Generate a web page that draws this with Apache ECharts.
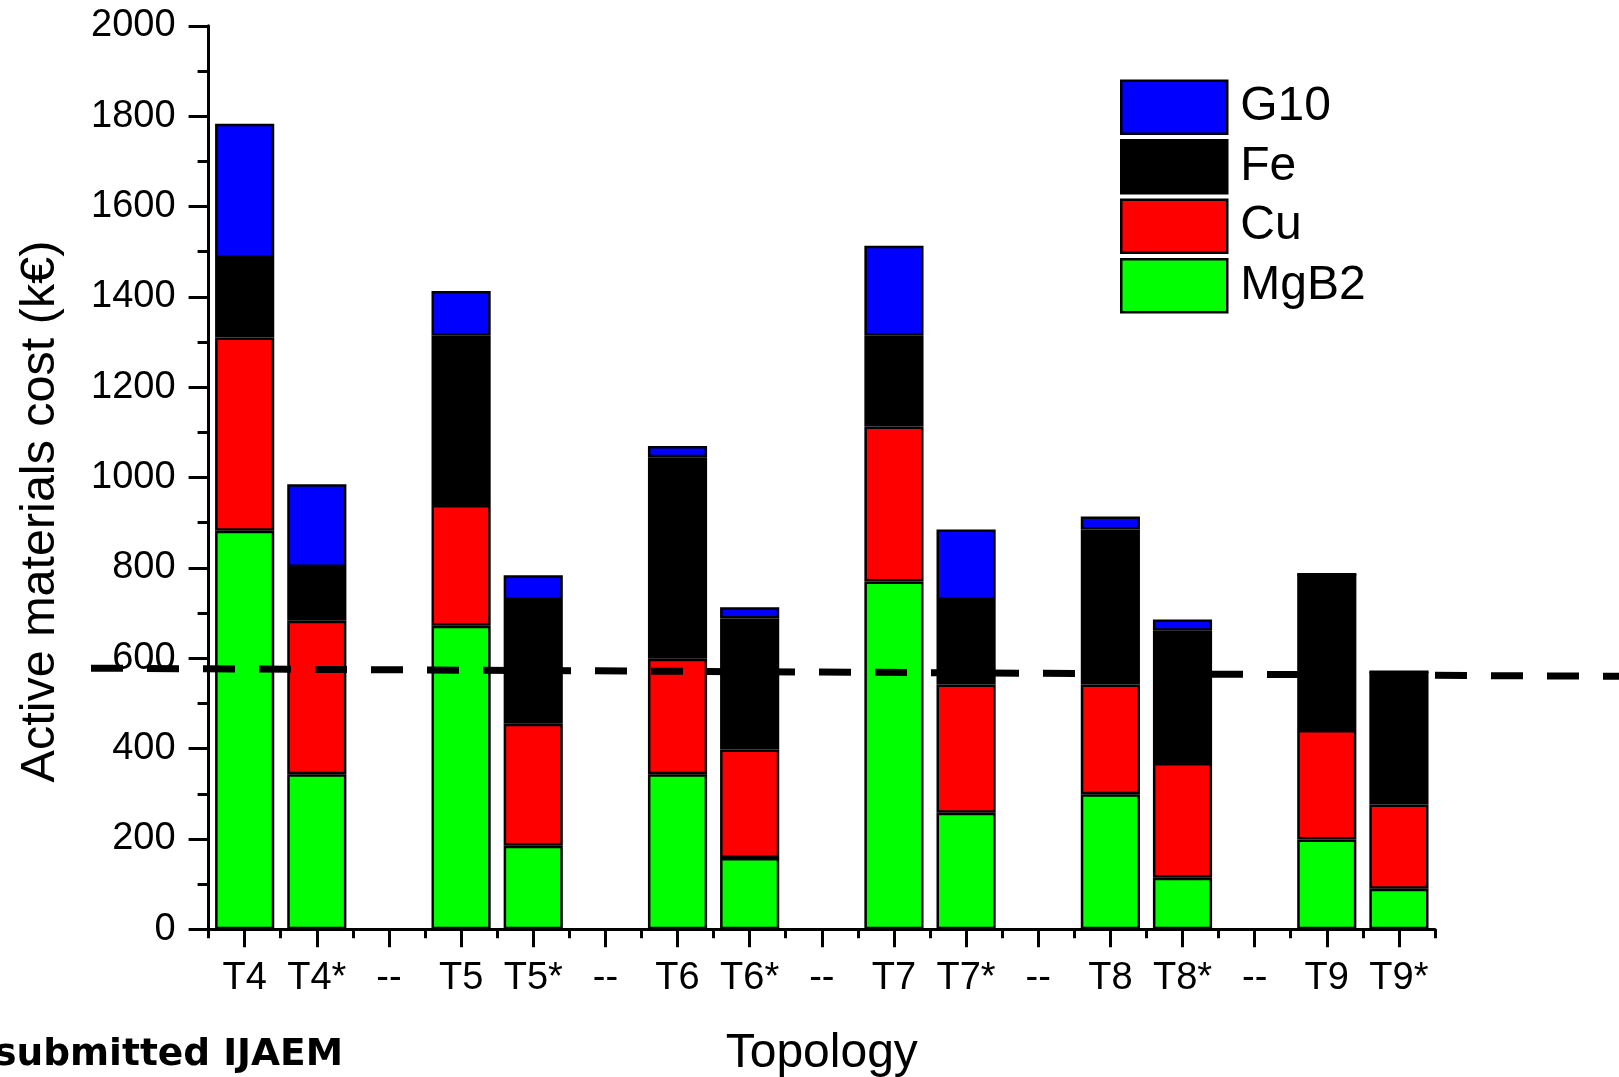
<!DOCTYPE html>
<html>
<head>
<meta charset="utf-8">
<script src="https://cdn.jsdelivr.net/npm/echarts@6/dist/echarts.min.js"></script>
<style>
html,body{margin:0;padding:0;background:#fff;}
#chart{width:1619px;height:1077px;}
</style>
</head>
<body>
<div id="chart"></div>
<script>
// ---- data ----
var categories = ['T4','T4*','--','T5','T5*','--','T6','T6*','--','T7','T7*','--','T8','T8*','--','T9','T9*'];
var mgb2 = [882, 343, null, 672, 185, null, 343, 158, null, 770, 258, null, 299, 114, null, 199, 90];
var cu   = [428, 340, null, 267, 270, null, 256, 240, null, 343, 284, null, 243, 254, null, 242, 186];
var fe   = [176, 119, null, 375, 274, null, 446, 290, null, 201, 187, null, 343, 293, null, 345, 294];
var g10  = [297, 183, null,  99,  55, null,  25,  25, null, 199, 156, null,  29,  25, null,   0,   0];
var legendOrder = ['G10','Fe','Cu','MgB2'];
var refLineX = [0, 1];
var refLineY = [578, 560];
var yTicks = {min: 0, max: 2000, interval: 200};

var FONT = '"Liberation Sans", Arial, sans-serif';
var chart = echarts.init(document.getElementById('chart'), null, {renderer: 'canvas'});

function barSeries(name, data, color) {
  return {
    name: name, type: 'bar', stack: 'total', data: data,
    xAxisIndex: 0, yAxisIndex: 0,
    barWidth: '82%',
    itemStyle: {color: color, borderColor: '#000', borderWidth: 2.5},
    emphasis: {disabled: true},
    z: 2
  };
}

var option = {
  animation: false,
  backgroundColor: '#fff',
  textStyle: {fontFamily: FONT},
  grid: [
    {left: 208.6, right: 184, top: 25.8, bottom: 147.7, containLabel: false, outerBoundsMode: 'none'},
    {left: 91, right: 0, top: 25.8, bottom: 147.7, containLabel: false, outerBoundsMode: 'none'}
  ],
  legend: {
    data: legendOrder,
    orient: 'vertical',
    left: 1120, top: 79.5, padding: 0,
    itemWidth: 106, itemHeight: 53, itemGap: 4,
    icon: 'rect',
    textStyle: {fontSize: 48, lineHeight: 53, color: '#000', fontFamily: FONT, padding: [0,0,0,8]},
    itemStyle: {borderColor: '#000', borderWidth: 2.5},
    selectedMode: false
  },
  xAxis: [
    {
      type: 'category', data: categories, gridIndex: 0, position: 'bottom',
      axisLine: {show: true, onZero: false, lineStyle: {color: '#000', width: 3}},
      axisTick: {show: true, alignWithLabel: true, length: 18, lineStyle: {color: '#000', width: 3}},
      axisLabel: {show: true, color: '#000', fontSize: 38, margin: 30, fontFamily: FONT, interval: 0},
      name: 'Topology', nameLocation: 'middle', nameGap: 100,
      nameTextStyle: {fontSize: 48, color: '#000', fontFamily: FONT},
      splitLine: {show: false}
    },
    {
      type: 'category', data: categories, gridIndex: 0, position: 'bottom', offset: 0,
      axisLine: {show: false, onZero: false},
      axisTick: {show: true, alignWithLabel: false, length: 9, lineStyle: {color: '#000', width: 3}},
      axisLabel: {show: false},
      splitLine: {show: false}
    },
    {
      type: 'value', gridIndex: 1, min: 0, max: 1, show: false
    }
  ],
  yAxis: [
    {
      type: 'value', gridIndex: 0, min: yTicks.min, max: yTicks.max, interval: yTicks.interval,
      axisLine: {show: true, lineStyle: {color: '#000', width: 3}},
      axisTick: {show: true, length: 20, lineStyle: {color: '#000', width: 3}},
      minorTick: {show: true, splitNumber: 2, length: 11, lineStyle: {color: '#000', width: 3}},
      axisLabel: {color: '#000', fontSize: 38, margin: 33, fontFamily: FONT,
        formatter: function (v) { return String(v); }},
      splitLine: {show: false},
      name: 'Active materials cost (k\u20ac)', nameLocation: 'middle', nameGap: 143, nameRotate: 90,
      nameTextStyle: {fontSize: 48.5, color: '#000', fontFamily: FONT, padding: [0, 68, 0, 0]}
    },
    {
      type: 'value', gridIndex: 1, min: yTicks.min, max: yTicks.max, show: false
    }
  ],
  series: [
    barSeries('MgB2', mgb2, '#00FF00'),
    barSeries('Cu', cu, '#FF0000'),
    barSeries('Fe', fe, '#000000'),
    barSeries('G10', g10, '#0000FF'),
    {
      name: 'ref', type: 'line', xAxisIndex: 2, yAxisIndex: 1,
      data: refLineX.map(function (x, i) { return [x, refLineY[i]]; }),
      symbol: 'none', silent: true,
      lineStyle: {color: '#000', width: 7, type: [32, 24]},
      z: 10
    }
  ],
  graphic: [
    {
      type: 'text', x: 343, y: 1055, z: 20,
      style: {
        text: 'submitted IJAEM', fill: '#000',
        font: 'bold 37.5px "DejaVu Sans", Verdana, sans-serif',
        textAlign: 'right', textVerticalAlign: 'middle'
      }
    }
  ]
};
chart.setOption(option);
</script>
</body>
</html>
